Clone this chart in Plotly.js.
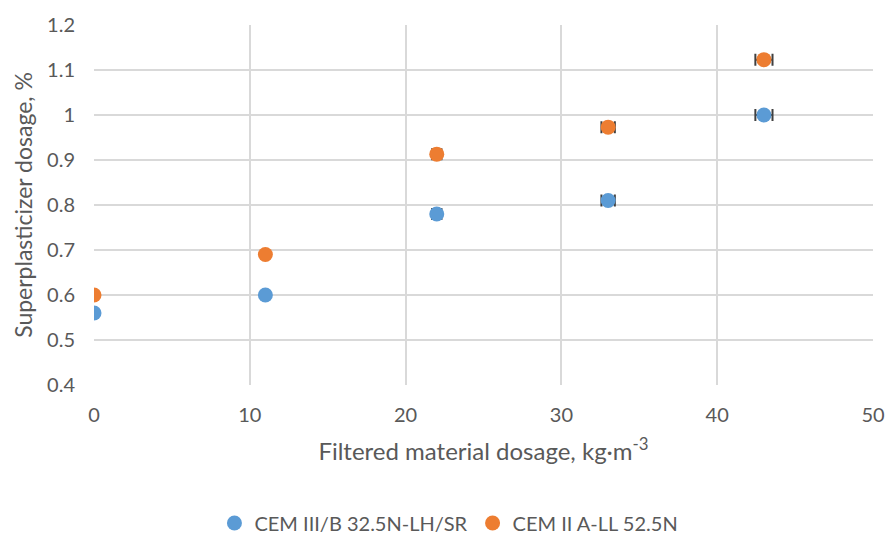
<!DOCTYPE html>
<html><head><meta charset="utf-8">
<script src="https://cdn.plot.ly/plotly-3.0.1.min.js"></script>
<style>body{margin:0;background:#fff}#c{width:889px;height:535px}</style>
</head><body><div id="c"></div>
<script>
const dosage = [0, 11, 22, 33, 43];
const cem3 = [0.56, 0.60, 0.78, 0.81, 1.00];
const cem2 = [0.60, 0.69, 0.913, 0.973, 1.123];
const errX = [0, 0, 0.3, 0.43, 0.55];
const names = ["CEM III/B 32.5N-LH/SR", "CEM II A-LL 52.5N"];
const colors = ["#5B9BD5", "#ED7D31"];
const font = "Lato, 'Open Sans', sans-serif";
function tr(y, i){
  return {x: dosage, y: y, name: names[i], type: 'scatter', mode: 'markers',
    marker: {color: colors[i], size: 15},
    error_x: {type: 'data', array: errX, visible: true, color: '#404040', thickness: 2, width: 6}};
}
const layout = {
  width: 889, height: 535,
  margin: {l: 94, r: 16, t: 25, b: 150, autoexpand: false},
  paper_bgcolor: '#fff', plot_bgcolor: '#fff',
  font: {family: font, color: '#595959', size: 20},
  xaxis: {range: [0, 50], dtick: 10, showgrid: true, gridcolor: '#d9d9d9', gridwidth: 1.5,
    zeroline: false, showline: false, ticks: '', ticklabelstandoff: 16, automargin: false,
    tickfont: {size: 20, color: '#595959'},
    title: {text: 'Filtered material dosage, kg·m<sup>-3</sup>', font: {size: 24, color: '#595959'}, standoff: 18}},
  yaxis: {range: [0.4, 1.2], dtick: 0.1, showgrid: true, gridcolor: '#d9d9d9', gridwidth: 1.5,
    zeroline: false, showline: false, ticks: '', ticklabelstandoff: 18, automargin: false,
    tickfont: {size: 20, color: '#595959'},
    title: {text: 'Superplasticizer dosage, %', font: {size: 23, color: '#595959'}, standoff: 8}},
  showlegend: true,
  legend: {orientation: 'h', xref: 'container', yref: 'container', x: 0.505, xanchor: 'center', y: 0.0224, yanchor: 'middle',
    font: {size: 20, color: '#595959'}, itemwidth: 30}
};
Plotly.newPlot('c', [tr(cem3, 0), tr(cem2, 1)], layout, {displayModeBar: false});
</script></body></html>
